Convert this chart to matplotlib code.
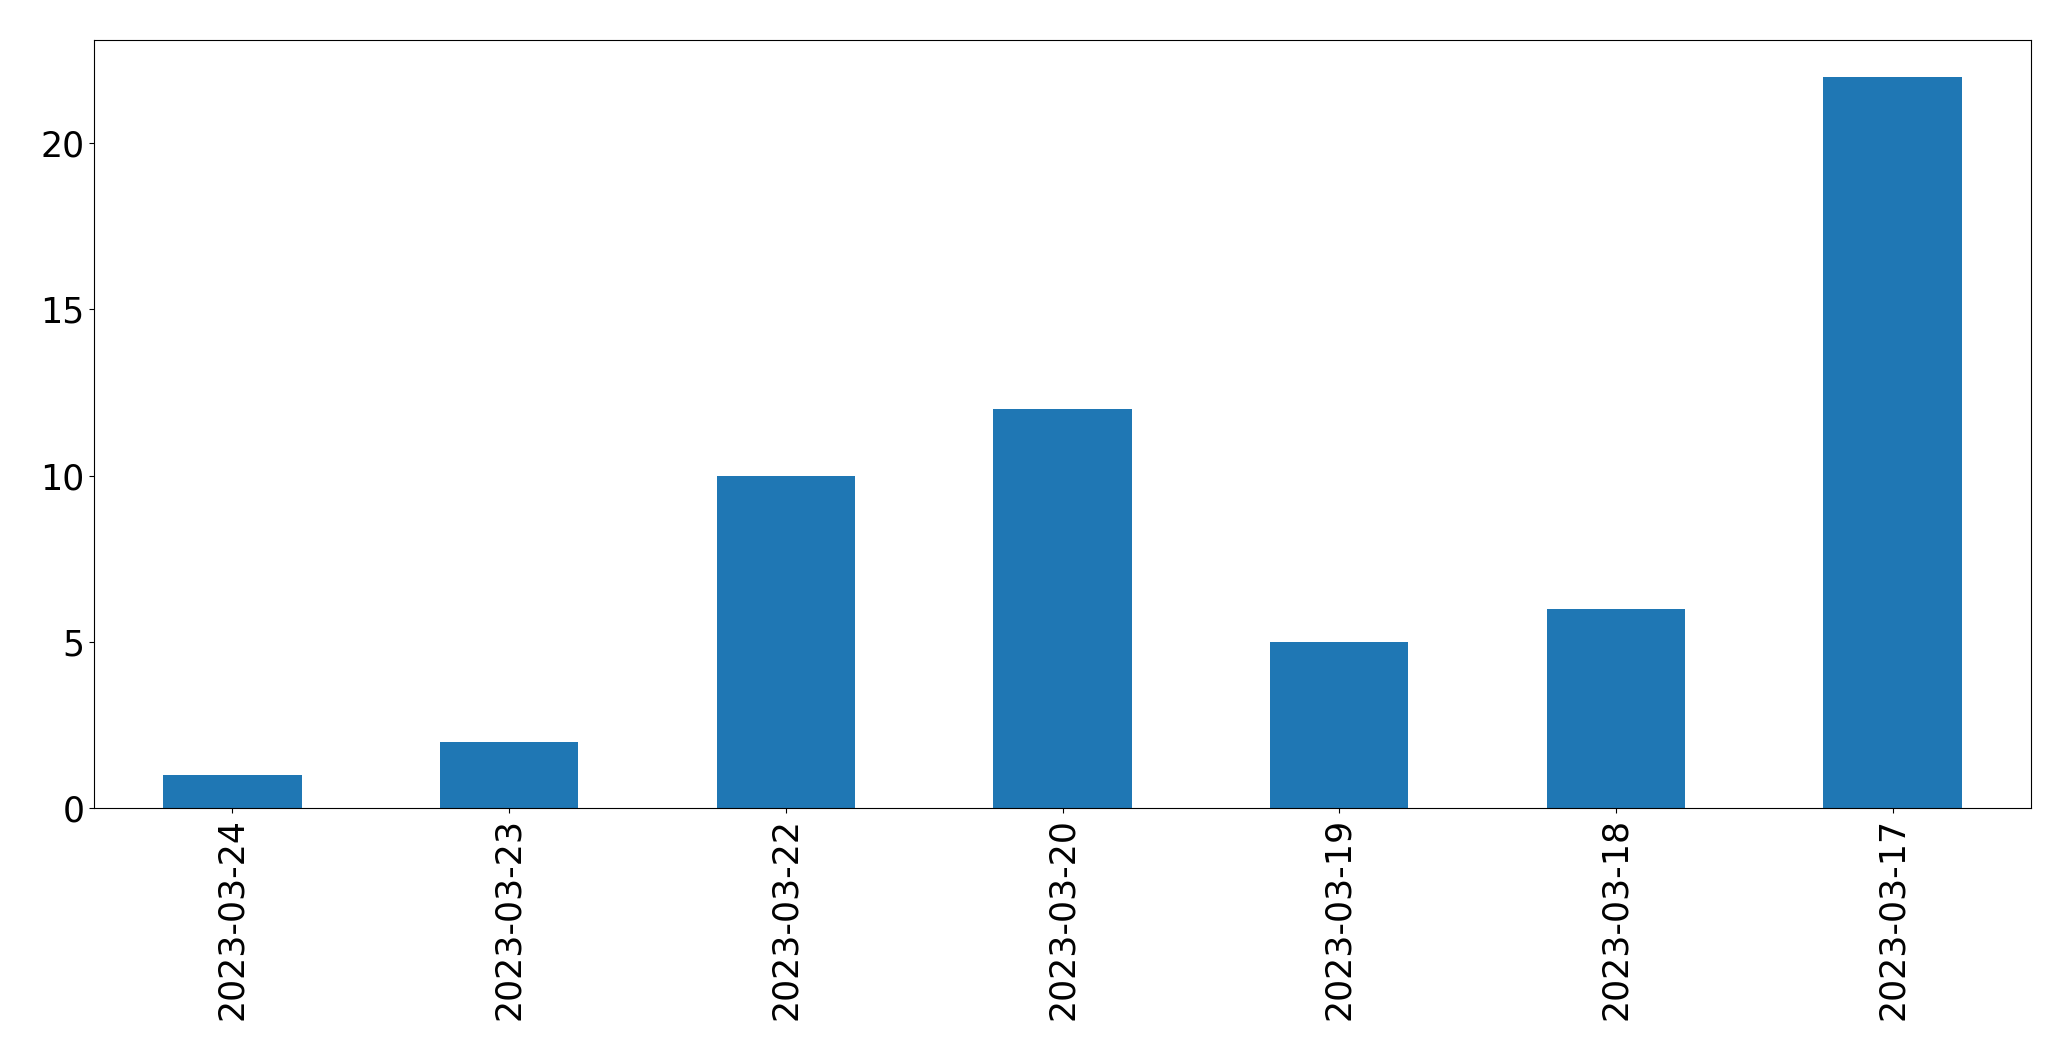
import matplotlib
matplotlib.use("Agg")
import matplotlib.pyplot as plt

dates = ['2023-03-24', '2023-03-23', '2023-03-22', '2023-03-20',
         '2023-03-19', '2023-03-18', '2023-03-17']
counts = [1, 2, 10, 12, 5, 6, 22]

fig = plt.figure(figsize=(20.71, 10.61), dpi=100)
ax = fig.add_axes([94 / 2071, 1 - 808 / 1061, (2031 - 94) / 2071, (808 - 40) / 1061])

x = range(len(dates))
ax.bar(x, counts, width=0.5, color='#1f77b4')
ax.set_xlim(-0.5, len(dates) - 0.5)
ax.set_ylim(0, max(counts) * 1.05)
ax.set_xticks(list(x))
ax.set_xticklabels(dates, rotation=90)
ax.tick_params(labelsize=25)

fig.savefig('out.png', dpi=100)
